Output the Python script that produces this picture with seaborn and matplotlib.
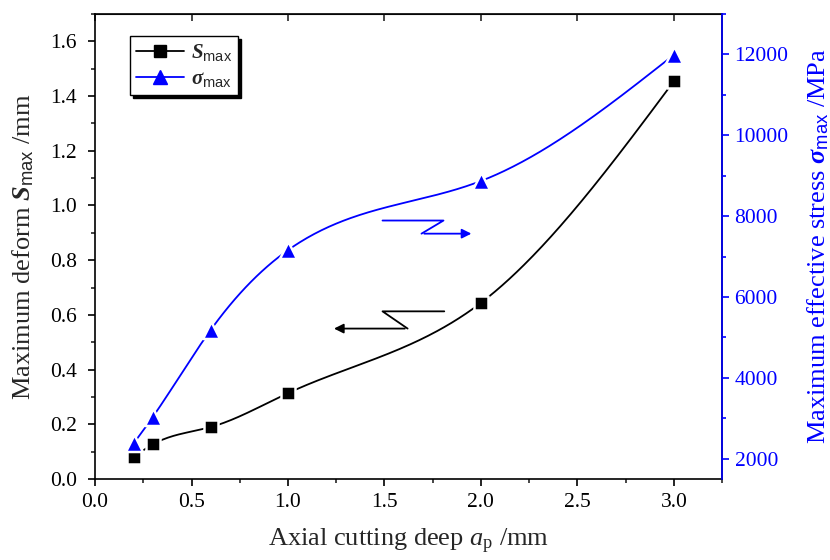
import numpy as np
import pandas as pd
import seaborn as sns
import matplotlib
matplotlib.use("Agg")
import matplotlib.pyplot as plt
from matplotlib.lines import Line2D
from matplotlib.ticker import MultipleLocator, FormatStrFormatter

# =====================
# Data
# =====================
depth = [0.2, 0.3, 0.6, 1.0, 2.0, 3.0]          # axial cutting deep ap /mm
deform = [0.08, 0.127, 0.19, 0.314, 0.644, 1.454]  # S max /mm
stress = [2380, 3040, 5190, 7160, 8870, 11990]     # sigma max /MPa


def natural_spline(x, y, n=300):
    # smooth connecting line through the points (like Origin's spline line)
    x = np.asarray(x, float)
    y = np.asarray(y, float)
    h = np.diff(x)
    m = len(x)
    A = np.zeros((m, m))
    b = np.zeros(m)
    A[0, 0] = A[-1, -1] = 1
    for i in range(1, m - 1):
        A[i, i - 1] = h[i - 1]
        A[i, i] = 2 * (h[i - 1] + h[i])
        A[i, i + 1] = h[i]
        b[i] = 6 * ((y[i + 1] - y[i]) / h[i] - (y[i] - y[i - 1]) / h[i - 1])
    M = np.linalg.solve(A, b)
    xs = np.linspace(x[0], x[-1], n)
    k = np.clip(np.searchsorted(x, xs) - 1, 0, m - 2)
    t0 = xs - x[k]
    t1 = x[k + 1] - xs
    hk = h[k]
    ys = ((M[k] * t1 ** 3 + M[k + 1] * t0 ** 3) / (6 * hk)
          + (y[k] / hk - M[k] * hk / 6) * t1
          + (y[k + 1] / hk - M[k + 1] * hk / 6) * t0)
    return xs, ys


df = pd.DataFrame({"depth": depth, "deform": deform, "stress": stress})
xs, s_line = natural_spline(depth, deform)
_, sig_line = natural_spline(depth, stress)
curve = pd.DataFrame({"x": xs, "s": s_line, "sig": sig_line})

# =====================
# Style
# =====================
sns.set_style("ticks")
SERIF = ["Liberation Serif", "DejaVu Serif"]
plt.rcParams["font.family"] = SERIF
plt.rcParams["mathtext.fontset"] = "custom"
plt.rcParams["mathtext.rm"] = "Liberation Serif"
plt.rcParams["mathtext.it"] = "Liberation Serif:italic"
plt.rcParams["mathtext.bf"] = "Liberation Serif:bold"
plt.rcParams["mathtext.bfit"] = "Liberation Serif:italic:bold"
plt.rcParams["mathtext.sf"] = "Liberation Sans"

fig = plt.figure(figsize=(8.3, 5.6), dpi=100)
ax = fig.add_axes([0.1145, 0.1446, 0.7555, 0.8304])
ax2 = ax.twinx()

# black: deformation
sns.lineplot(data=curve, x="x", y="s", ax=ax, color="black", lw=1.3,
             sort=False, legend=False)
sns.scatterplot(data=df, x="depth", y="deform", ax=ax, marker="s", s=90,
                color="black", edgecolor="white", linewidth=1.8, zorder=3,
                legend=False)

# blue: stress
sns.lineplot(data=curve, x="x", y="sig", ax=ax2, color="blue", lw=1.3,
             sort=False, legend=False)
sns.scatterplot(data=df, x="depth", y="stress", ax=ax2, marker="^", s=150,
                color="blue", edgecolor="white", linewidth=1.8, zorder=3,
                legend=False)

# axes limits / ticks
ax.set_xlim(0, 3.25)
ax.set_ylim(0, 1.7)
ax2.set_ylim(1500, 13000)
ax.xaxis.set_major_locator(MultipleLocator(0.5))
ax.xaxis.set_minor_locator(MultipleLocator(0.25))
ax.yaxis.set_major_locator(MultipleLocator(0.2))
ax.yaxis.set_minor_locator(MultipleLocator(0.1))
ax2.yaxis.set_major_locator(MultipleLocator(2000))
ax2.yaxis.set_minor_locator(MultipleLocator(1000))
ax.xaxis.set_major_formatter(FormatStrFormatter("%.1f"))
ax.yaxis.set_major_formatter(FormatStrFormatter("%.1f"))
ax2.yaxis.set_major_formatter(FormatStrFormatter("%d"))

ax.tick_params(which="major", direction="out", length=5, width=1.2,
               labelsize=15.5, colors="black", pad=5)
ax.tick_params(axis="y", which="major", pad=8)
ax.tick_params(which="minor", direction="out", length=3, width=1.2)
ax2.tick_params(which="major", direction="out", length=5, width=1.2,
                labelsize=15.5, colors="blue", pad=4)
ax2.tick_params(which="minor", direction="out", length=3, width=1.2,
                colors="blue")
for lbl in ax.get_xticklabels() + ax.get_yticklabels() + ax2.get_yticklabels():
    lbl.set_fontfamily(SERIF)

top = ax.secondary_xaxis("top")
top.xaxis.set_major_locator(MultipleLocator(0.5))
top.tick_params(direction="in", length=5, width=1.2, labeltop=False)

for sp in ax.spines.values():
    sp.set_linewidth(1.2)
    sp.set_color("black")
for sp in ax2.spines.values():
    sp.set_linewidth(1.2)
ax2.spines["right"].set_color("blue")
ax2.spines["left"].set_visible(False)
ax2.spines["top"].set_visible(False)
ax2.spines["bottom"].set_visible(False)

ax.set_xlabel(r"Axial cutting deep $\mathit{a}_{\mathrm{p}}$ /mm", fontsize=19,
              labelpad=11)
ax.set_ylabel(r"Maximum deform $\mathbfit{S}_{\mathsf{max}}$ /mm", fontsize=19,
              labelpad=10)
ax2.set_ylabel(r"Maximum effective stress $\mathbfit{σ}_{\mathsf{max}}$ /MPa",
               fontsize=19, color="blue", labelpad=12)

# direction arrows
ax.annotate("", xy=(1.224, 0.55), xytext=(1.62, 0.55),
            arrowprops=dict(arrowstyle="-|>", color="black", lw=1.3,
                            mutation_scale=14))
ax.plot([1.81, 1.49, 1.62], [0.613, 0.613, 0.55], color="black", lw=1.3)
ax.annotate("", xy=(1.965, 0.897), xytext=(1.692, 0.897),
            arrowprops=dict(arrowstyle="-|>", color="blue", lw=1.3,
                            mutation_scale=14))
ax.plot([1.49, 1.806, 1.692], [0.945, 0.945, 0.897], color="blue", lw=1.3)

# legend
handles = [
    Line2D([], [], color="black", marker="s", markersize=8, lw=1.3,
           label=r"$\mathbfit{S}_{\mathsf{max}}$"),
    Line2D([], [], color="blue", marker="^", markersize=10, lw=1.3,
           label=r"$\mathbfit{σ}_{\mathsf{max}}$"),
]
leg = ax2.legend(handles=handles, loc="upper left",
                 bbox_to_anchor=(0.056, 0.953), borderaxespad=0,
                 fontsize=15, handlelength=2.3, handletextpad=0.3,
                 labelspacing=0.3, borderpad=0.3, frameon=True,
                 fancybox=False,
                 shadow={"color": "black", "alpha": 1},
                 edgecolor="black", framealpha=1)
leg.get_frame().set_linewidth(1.0)

fig.savefig("out.png", dpi=100)
